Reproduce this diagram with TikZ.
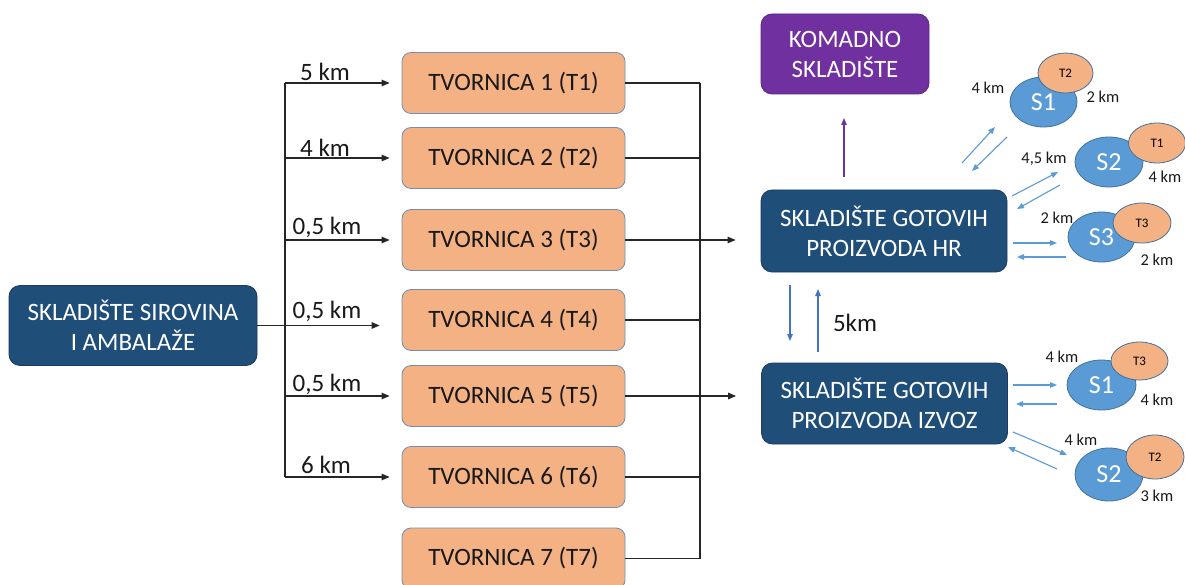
\documentclass[tikz,border=0pt]{standalone}
\usepackage{fontspec}
\setmainfont{Carlito}
\usetikzlibrary{arrows.meta,shapes.geometric}
\definecolor{dblue}{HTML}{1F4E79}
\definecolor{dbord}{HTML}{1F3864}
\definecolor{purp}{HTML}{7030A0}
\definecolor{orangef}{HTML}{F4B183}
\definecolor{obord}{HTML}{6F8FB5}
\definecolor{cblue}{HTML}{5B9BD5}
\definecolor{cbord}{HTML}{41719C}
\definecolor{lblue}{HTML}{5B9BD5}
\definecolor{mblue}{HTML}{4472C4}
\definecolor{linegray}{HTML}{262626}
\begin{document}
\begin{tikzpicture}[x=1pt,y=-1pt,
  obox/.style={draw=obord, fill=orangef, rounded corners=9pt, minimum width=223pt, minimum height=61pt, inner sep=0pt, font=\fontsize{25}{30}\selectfont, text=black!90, line width=0.8pt},
  dbox/.style={draw=dbord, fill=dblue, rounded corners=11pt, text=white, align=center, inner sep=0pt, font=\fontsize{25}{30}\selectfont, line width=0.8pt},
  blk/.style={draw=linegray, line width=1.2pt},
  blkarr/.style={blk, -{Triangle[length=8pt,width=6.5pt]}},
  barr/.style={draw=lblue, line width=1.1pt, -{Triangle[length=7pt,width=5.5pt]}},
  varr/.style={draw=mblue, line width=1.1pt, -{Triangle[length=7pt,width=5.5pt]}},
  parr/.style={draw=purp, line width=1.1pt, -{Triangle[length=7pt,width=5.5pt]}},
  lab/.style={font=\fontsize{25}{30}\selectfont, inner sep=0pt, text=black!90},
  slab/.style={font=\fontsize{16.5}{19}\selectfont, inner sep=0pt, text=black!90},
  sell/.style={ellipse, draw=cbord, fill=cblue, text=white, inner sep=0pt, line width=0.8pt, font=\fontsize{26}{30}\selectfont},
  tell/.style={ellipse, draw=cbord, fill=orangef, inner sep=0pt, line width=0.8pt, text=black, font=\fontsize{13}{15}\selectfont}
]
\useasboundingbox (0,0) rectangle (1185,585);
\fill[white] (0,0) rectangle (1185,585);

% left store
\node[dbox, minimum width=248pt, minimum height=80pt] (sir) at (133,325.5) {SKLADIŠTE SIROVINA\\I AMBALAŽE};

% factories
\node[obox] (t1) at (513.5,83) {TVORNICA 1 (T1)};
\node[obox] (t2) at (513.5,158) {TVORNICA 2 (T2)};
\node[obox] (t3) at (513.5,240) {TVORNICA 3 (T3)};
\node[obox] (t4) at (513.5,320) {TVORNICA 4 (T4)};
\node[obox] (t5) at (513.5,396) {TVORNICA 5 (T5)};
\node[obox] (t6) at (513.5,477) {TVORNICA 6 (T6)};
\node[obox] (t7) at (513.5,558.5) {TVORNICA 7 (T7)};

% right stores
\node[dbox, fill=purp, draw=purp!80!black, minimum width=168pt, minimum height=80pt] (kom) at (845,54) {KOMADNO\\SKLADIŠTE};
\node[dbox, minimum width=246pt, minimum height=82pt] (hr) at (884,231) {SKLADIŠTE GOTOVIH\\PROIZVODA HR};
\node[dbox, minimum width=246pt, minimum height=81pt] (izv) at (884.5,403.5) {SKLADIŠTE GOTOVIH\\PROIZVODA IZVOZ};

% left distribution
\coordinate (jt) at (285,83);
\coordinate (jb) at (285,477);
\draw[blk] (jt) -- (jb);
\draw[blkarr] (jt) -- ([xshift=-12pt]t1.west);
\draw[blkarr] (285,158) -- ([xshift=-12pt]t2.west);
\draw[blkarr] (285,240) -- ([xshift=-12pt]t3.west);
\draw[blkarr] (sir.east) -- ([xshift=-22pt]sir.east -| t4.west);
\draw[blkarr] (285,396) -- ([xshift=-12pt]t5.west);
\draw[blkarr] (jb) -- ([xshift=-12pt]t6.west);

\node[lab] (l1) at (325,72) {5 km};
\node[lab] (l2) at (325,148) {4 km};
\node[lab] (l3) at (327,227) {0,5 km};
\node[lab] (l4) at (327,311) {0,5 km};
\node[lab] (l5) at (327,384) {0,5 km};
\node[lab] (l6) at (326,465) {6 km};

% right collection
\coordinate (rt) at (700,83);
\coordinate (rb) at (700,558.5);
\draw[blk] (rt) -- (rb);
\draw[blk] (t1.east) -- (rt);
\draw[blk] (t2.east) -- (700,158);
\draw[blk] (t4.east) -- (700,320);
\draw[blk] (t6.east) -- (700,477);
\draw[blk] (t7.east) -- (rb);
\draw[blkarr] (t3.east) -- ([xshift=-25pt]t3.east -| hr.west);
\draw[blkarr] (t5.east) -- ([xshift=-25pt]t5.east -| izv.west);

% purple arrow
\coordinate (pa) at (844,177);
\coordinate (pb) at (844,118);
\draw[parr] (pa) -- (pb);

% HR <-> IZVOZ
\coordinate (d1) at (790,285);
\coordinate (d2) at (790,341);
\coordinate (u1) at (818,352);
\coordinate (u2) at (818,289);
\draw[varr] (d1) -- (d2);
\draw[varr] (u1) -- (u2);
\node[lab] (l5km) at (855,323) {5km};

% HR stores
\node[sell, minimum width=67pt, minimum height=50pt] (hs1) at (1043.5,102) {S1};
\node[tell, minimum width=55pt, minimum height=40pt] (ht2) at (1065.5,73) {T2};
\node[sell, minimum width=68pt, minimum height=50pt] (hs2) at (1109,162) {S2};
\node[tell, minimum width=57pt, minimum height=40pt] (ht1) at (1157,143) {T1};
\node[sell, minimum width=67pt, minimum height=50pt] (hs3) at (1101.5,237) {S3};
\node[tell, minimum width=58pt, minimum height=40pt] (ht3) at (1142,223) {T3};

\node[slab] at (988,88) {4 km};
\node[slab] at (1103,97) {2 km};
\node[slab] at (1044,159) {4,5 km};
\node[slab] at (1165,177) {4 km};
\node[slab] at (1057,218) {2 km};
\node[slab] at (1157,260) {2 km};

\coordinate (a1s) at (962,163); \coordinate (a1e) at (995,127);
\coordinate (b1s) at (1007,137); \coordinate (b1e) at (972,171);
\coordinate (a2s) at (1012,196); \coordinate (a2e) at (1058,172);
\coordinate (b2s) at (1060,185); \coordinate (b2e) at (1017,209);
\coordinate (a3s) at (1013,243); \coordinate (a3e) at (1057,243);
\coordinate (b3s) at (1066,257); \coordinate (b3e) at (1017,257);
\draw[barr] (a1s) -- (a1e);
\draw[barr] (b1s) -- (b1e);
\draw[barr] (a2s) -- (a2e);
\draw[barr] (b2s) -- (b2e);
\draw[barr] (a3s) -- (a3e);
\draw[barr] (b3s) -- (b3e);

% IZVOZ stores
\node[sell, minimum width=69pt, minimum height=50pt] (is1) at (1101.5,385) {S1};
\node[tell, minimum width=57pt, minimum height=38pt] (it3) at (1139.5,361) {T3};
\node[sell, minimum width=68pt, minimum height=53pt] (is2) at (1109,474.5) {S2};
\node[tell, minimum width=58pt, minimum height=44pt] (it2) at (1155,457) {T2};

\node[slab] at (1062,357) {4 km};
\node[slab] at (1157,400) {4 km};
\node[slab] at (1081,440) {4 km};
\node[slab] at (1157,496) {3 km};

\coordinate (a4s) at (1013,385); \coordinate (a4e) at (1057,385);
\coordinate (b4s) at (1057,404); \coordinate (b4e) at (1016,404);
\coordinate (a5s) at (1013,432); \coordinate (a5e) at (1067,455);
\coordinate (b5s) at (1057,469); \coordinate (b5e) at (1008,447);
\draw[barr] (a4s) -- (a4e);
\draw[barr] (b4s) -- (b4e);
\draw[barr] (a5s) -- (a5e);
\draw[barr] (b5s) -- (b5e);
\end{tikzpicture}
\end{document}
